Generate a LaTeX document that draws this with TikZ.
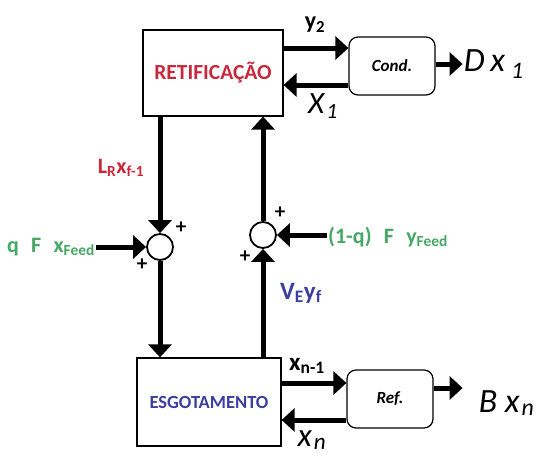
\documentclass[tikz,border=0pt]{standalone}
\usepackage{fontspec}
\setmainfont{Carlito}
\usepackage{xcolor}
\usetikzlibrary{arrows.meta, positioning}

\definecolor{retred}{RGB}{200,40,60}
\definecolor{feedgreen}{RGB}{70,168,100}
\definecolor{esgblue}{RGB}{62,62,160}

\newcommand{\fsz}[1]{\fontsize{#1}{#1}\selectfont}

\tikzset{
    block/.style={draw, line width=1.2pt, minimum width=140pt, minimum height=86pt, inner sep=0pt},
    unit/.style={draw, rounded corners=9pt, line width=1.2pt, minimum width=86pt, minimum height=58pt,
        font=\bfseries\itshape\fsz{17}},
    sum/.style={draw, circle, line width=1.8pt, minimum size=26pt, inner sep=0pt},
    flow/.style={line width=5pt, -{Triangle[length=13pt,width=23pt]}},
    sign/.style={font=\bfseries\fsz{21}, inner sep=0pt},
    lbl/.style={font=\bfseries\fsz{22}, inner sep=1pt},
    outlbl/.style={font=\itshape\fsz{34}, inner sep=1pt},
}

\begin{document}
\begin{tikzpicture}[x=1pt, y=-1pt, node distance=27pt]
    \useasboundingbox (0,0) rectangle (552,456);

    % columns and condenser / reboiler
    \node (ret) [block, text=retred, font=\bfseries\fsz{21.5}] at (213,73) {RETIFICAÇÃO};
    \node (cond) [unit] at (392,66) {Cond.};
    \node (esg) [block, minimum width=144pt, minimum height=88pt, text=esgblue, font=\bfseries\fsz{18.5}] at (209,402) {ESGOTAMENTO};
    \node (ref) [unit] at (390,399) {Ref.};

    % summing junctions
    \node (sumL) [sum] at (160,247) {};
    \node (sumR) [sum] at (263,235) {};
    \node (plusLa) [sign] at (181,228) {+};
    \node (plusLb) [sign] at (142,265) {+};
    \node (plusRa) [sign] at (280,213) {+};
    \node (plusRb) [sign] at (245,257) {+};

    % labels
    \node (dout) [outlbl, right=of cond, yshift=2pt] {D\,x\kern6pt\textsubscript{1}};
    \node (bout) [outlbl, right=44pt of ref, yshift=-4pt] {B x\kern2pt\textsubscript{n}};
    \node (y2) [lbl, font=\bfseries\fsz{24}] at (315,25) {y\textsubscript{2}};
    \node (x1) [outlbl, font=\itshape\fsz{31}] at (323,106) {X\kern2pt\textsubscript{1}};
    \node (xn1) [lbl, font=\bfseries\fsz{25}] at (307,366) {x\textsubscript{n-1}};
    \node (xn) [outlbl, font=\itshape\fsz{33}] at (312,440) {x\kern2pt\textsubscript{n}};
    \node (lr) [lbl, text=retred] at (121,168) {L\textsubscript{R}x\textsubscript{f-1}};
    \node (ve) [lbl, text=esgblue, font=\bfseries\fsz{25}] at (301,293) {V\textsubscript{E}y\textsubscript{f}};
    \node (qf) [lbl, text=feedgreen, anchor=east] at (96,247) {q\,\, F\,\, x\textsubscript{Feed}};
    \node (yf) [lbl, text=feedgreen, anchor=west] at (327,237) {(1-q)\,\, F\,\, y\textsubscript{Feed}};

    % flows
    \draw[flow] ([yshift=25pt]ret.east) -- ([yshift=25pt]ret.east -| cond.west);
    \draw[flow] ([yshift=-12pt]ret.east -| cond.west) -- ([yshift=-12pt]ret.east);
    \draw[flow] (cond.east |- dout) -- (dout);
    \draw[flow] ([yshift=19pt]esg.east) -- ([yshift=19pt]esg.east -| ref.west);
    \draw[flow] ([yshift=-18pt]esg.east -| ref.west) -- ([yshift=-18pt]esg.east);
    \draw[flow] ([yshift=11pt]ref.east) -- ([yshift=11pt,xshift=-15pt]ref.east -| bout.west);

    \draw[flow] (sumL |- ret.south) -- (sumL);
    \draw[flow] (sumL) -- (sumL |- esg.north);
    \draw[flow] (sumR |- esg.north) -- (sumR);
    \draw[flow] (sumR) -- (sumR |- ret.south);
    \draw[flow] (qf.east |- sumL) -- (sumL);
    \draw[flow] (yf.west |- sumR) -- (sumR);
\end{tikzpicture}
\end{document}
